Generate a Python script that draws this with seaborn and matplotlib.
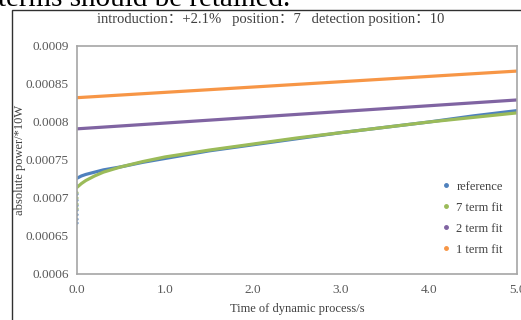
import numpy as np
import pandas as pd
import matplotlib
matplotlib.use("Agg")
import matplotlib.pyplot as plt
import seaborn as sns
from matplotlib.patches import Rectangle

# values
t = [0.0, 0.05, 0.1, 0.2, 0.3, 0.5, 0.75, 1.0, 1.5, 2.0, 2.5, 3.0, 3.5, 4.0, 4.5, 5.0]
reference = [0.000726, 0.000729, 0.000731, 0.000734, 0.000737, 0.000741, 0.000747, 0.000752,
             0.000762, 0.000770, 0.000778, 0.000786, 0.000793, 0.000800, 0.000808, 0.000815]
fit7 = [0.000714, 0.000719, 0.000723, 0.000729, 0.000734, 0.000741, 0.000748, 0.000754,
        0.000763, 0.000771, 0.000779, 0.000786, 0.000793, 0.000800, 0.000806, 0.000812]
t_lin = [0.0, 5.0]
fit2 = [0.000791, 0.000829]
fit1 = [0.000832, 0.000867]

# scattered start-up points at t = 0
ref_start = [0.000667, 0.000672, 0.000678, 0.000684, 0.000690, 0.000697, 0.000705, 0.000716]
fit7_start = [0.000686, 0.000692, 0.000700, 0.000707]

labels = ['reference', '7 term fit', '2 term fit', '1 term fit']
colors = ['#4F81BD', '#9BBB59', '#8064A2', '#F79646']
x_ticks = [0.0, 1.0, 2.0, 3.0, 4.0, 5.0]
y_ticks = [0.0006, 0.00065, 0.0007, 0.00075, 0.0008, 0.00085, 0.0009]
y_ticklabels = ['0.0006', '0.00065', '0.0007', '0.00075', '0.0008', '0.00085', '0.0009']

sns.set_style("white")
plt.rcParams['font.family'] = ['Liberation Serif', 'Noto Sans CJK SC', 'DejaVu Sans']

df = pd.concat([
    pd.DataFrame({'t': t, 'p': reference, 'series': labels[0]}),
    pd.DataFrame({'t': t, 'p': fit7, 'series': labels[1]}),
    pd.DataFrame({'t': t_lin, 'p': fit2, 'series': labels[2]}),
    pd.DataFrame({'t': t_lin, 'p': fit1, 'series': labels[3]}),
])
pal = dict(zip(labels, colors))

fig = plt.figure(figsize=(5.21, 3.2), dpi=100)
ax = fig.add_axes([77 / 521, 46 / 320, 440 / 521, 228 / 320])

sns.lineplot(data=df, x='t', y='p', hue='series', palette=pal, linewidth=2.3,
             ax=ax, legend=False, sort=False)
sns.scatterplot(x=[0.0] * len(ref_start), y=ref_start, color=colors[0], s=5,
                edgecolor='none', ax=ax)
sns.scatterplot(x=[0.0] * len(fit7_start), y=fit7_start, color=colors[1], s=5,
                edgecolor='none', ax=ax)

ax.set_xlim(0, 5)
ax.set_ylim(0.0006, 0.0009)
ax.set_xticks(x_ticks)
ax.set_xticklabels([f"{v:.1f}" for v in x_ticks])
ax.set_yticks(y_ticks)
ax.set_yticklabels(y_ticklabels)
ax.tick_params(length=0, labelsize=9.5, colors='#595959')
ax.tick_params(axis='y', pad=6)
ax.tick_params(axis='x', pad=7)
for s in ax.spines.values():
    s.set_color('#A6A6A6')
    s.set_linewidth(1.2)

ax.set_xlabel('Time of dynamic process/s', fontsize=9, color='#404040', labelpad=5)
ax.set_ylabel('absolute power/*10W', fontsize=9, color='#404040')
ax.yaxis.set_label_coords(-51 / 440, 0.5)

handles = [plt.Line2D([], [], marker='o', linestyle='none', markersize=2.5,
                      color=c, label=l) for l, c in zip(labels, colors)]
ax.legend(handles=handles, loc='upper left', bbox_to_anchor=(0.825, 0.41), frameon=False,
          fontsize=9, handletextpad=0.3, labelspacing=0.72, handlelength=1.0,
          borderpad=0, borderaxespad=0, labelcolor='#404040')

fig.text(271 / 521, 1 - 19 / 320, 'introduction：+2.1%   position：7   detection position：10',
         ha='center', va='center', fontsize=10.5, color='#404040')
fig.text(-0.004, 1 - 6 / 320, 'terms should be retained.', ha='left', va='baseline',
         fontsize=21, color='black')
fig.patches.append(Rectangle((12 / 521, -0.1), 1.2, 1.1 - 10 / 320,
                             transform=fig.transFigure, fill=False, edgecolor='#303030',
                             linewidth=1.0))

fig.savefig('out.png', dpi=100)
